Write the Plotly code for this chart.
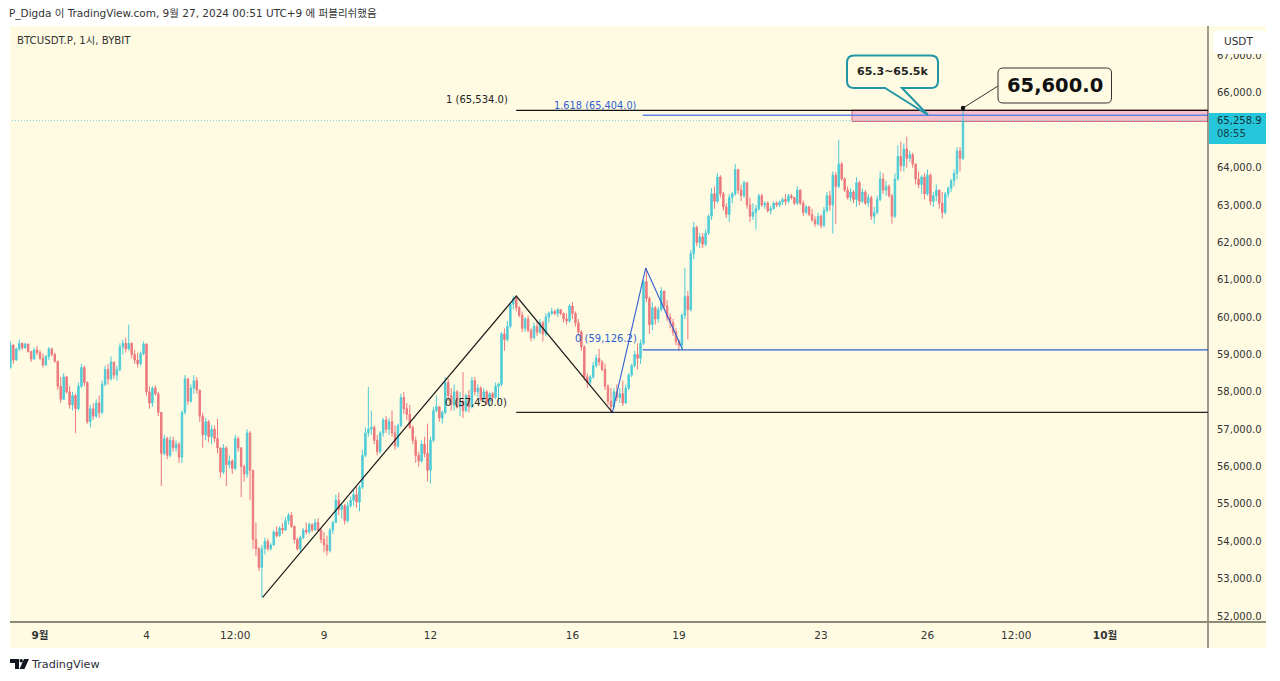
#!/usr/bin/env python3
"""BTCUSDT.P 1h chart snapshot (TradingView look) with fib levels and the 65.3~65.5k target zone."""
import pandas as pd
import plotly.graph_objects as go

FONT = "DejaVu Sans, Noto Sans CJK KR"
CREAM = "#fffbe3"
UP = "#2fc4d6"
DOWN = "#e9636d"
BLUE = "#2f5fd0"

# candles, one row per day (Aug 31 is a short row, Sep 27 a single bar)
opens = [
    58650, 59250, 58850, 59150, 59300, 59180, 59280, 59080, 58880, 59120,
    59050, 58900, 58720, 58950, 59150, 59000, 58820, 58150, 57800, 58400, 58000, 57650,
    57900, 57550, 58150, 58650, 58250, 57200, 57550, 57350, 57700, 57450, 58200, 58600,
    58350, 58800, 58450, 58600, 59200, 59300, 59150, 59300, 59000, 58850, 58750, 59020,
    59280, 58000, 57700, 58100, 57950, 57450, 56350, 56750, 56300, 56700, 56500, 56600,
    56250, 57450, 58350, 57750, 58100, 58300, 58050, 57350, 56850, 57200, 56800, 57000,
    56750, 56500, 55850, 56500, 56050, 56150, 55950, 56750, 56500, 56000, 55800, 56900,
    55900, 54050, 53800, 53300, 53800, 54000, 53800, 53900, 54250, 54150, 54350, 54300,
    54550, 54700, 54400, 54050, 53800, 54100, 54300, 54250, 54450, 54300, 54500, 54300,
    54050, 53900, 53750, 54300, 54500, 55100, 54850, 54950, 54550, 54950, 55100, 55250,
    55050, 55450, 56300, 56900, 57000, 57050, 56700, 56400, 56900, 57250, 57000, 57200,
    56900, 56550, 57100, 57850, 57550, 57400, 57050, 56700, 56300, 56150, 56600, 56350,
    55900, 56700, 57500, 57600, 57300, 57450, 58250, 57900, 57650, 58000, 57600, 57750,
    57500, 57900, 57600, 58300, 58000, 58100, 57800, 58000, 57750, 57950, 57850, 58150,
    58200, 59550, 59400, 59750, 60350, 60500, 60250, 60050, 59700, 59950, 59650, 59450,
    59750, 59600, 59850, 59550, 60000, 60100, 60150, 60100, 60200, 60100, 59950, 59900,
    60300, 60100, 59850, 59600, 59200, 58400, 58250, 58400, 58700, 58900, 58800, 58600,
    58150, 57750, 57600, 58000, 57850, 57950, 57700, 58100, 58450, 58700, 59000, 58900,
    59300, 60950, 60500, 59800, 60250, 59950, 60200, 60700, 60300, 60000, 59850, 59600,
    59350, 59250, 60050, 60550, 60200, 61700, 62400, 62000, 62150, 61950, 62250, 62700,
    63300, 63100, 63750, 63300, 62950, 62750, 63200, 63300, 63950, 63400, 63250, 63600,
    63000, 62700, 62800, 62900, 63250, 63000, 63050, 62850, 62900, 63050, 63000, 63080,
    63150, 63100, 63250, 63200, 63050, 63400, 63050, 62800, 62950, 62750, 62600, 62500,
    62700, 62450, 62850, 63250, 63000, 63800, 63500, 64100, 63700, 63400, 63200, 63350,
    63150, 63600, 63100, 63350, 63050, 63200, 62700, 62800, 63150, 63700, 63400, 63500,
    63250, 62700, 63700, 64300, 64050, 64500, 64250, 64350, 64100, 63700, 63550, 63750,
    63300, 63800, 63100, 63250, 63400, 63050, 62800, 63300, 63450, 63650, 63850, 64450,
    64250,
]
highs = [
    59340, 59280, 59180, 59400, 59320, 59320, 59300, 59100, 59180, 59230,
    59120, 59030, 58980, 59200, 59180, 59050, 58830, 58400, 58500, 58420, 58150, 58000,
    57950, 58250, 58750, 58700, 58280, 57650, 57700, 57800, 57900, 58300, 58700, 58750,
    58950, 58800, 58700, 59300, 59400, 59450, 59800, 59320, 59130, 59050, 59080, 59350,
    59300, 58150, 58150, 58180, 58000, 57450, 56850, 56800, 56800, 56800, 56700, 56650,
    57500, 58450, 58350, 58200, 58450, 58400, 58050, 57450, 57300, 57250, 57100, 57100,
    57280, 56500, 56600, 56550, 56300, 56200, 56850, 56800, 56520, 56050, 57000, 56950,
    55900, 54500, 53850, 53900, 54100, 54070, 53950, 54300, 54400, 54400, 54480, 54650,
    54760, 54780, 54420, 54100, 54150, 54350, 54500, 54500, 54480, 54600, 54620, 54350,
    54250, 54150, 54350, 54550, 55250, 55300, 55000, 55000, 55050, 55200, 55380, 55450,
    55500, 56450, 57050, 58130, 57500, 57100, 56850, 56950, 57300, 57350, 57300, 57500,
    57100, 57150, 57950, 58000, 57700, 57650, 57100, 56800, 56400, 56700, 56800, 57150,
    56800, 57600, 57900, 57600, 57500, 58400, 58350, 58100, 58200, 58050, 58000, 58530,
    57950, 58050, 58400, 58400, 58200, 58150, 58100, 58050, 58000, 58000, 58250, 58250,
    59600, 59700, 59900, 60400, 60560, 60560, 60300, 60150, 60000, 60050, 59700, 59850,
    59900, 59950, 59900, 60100, 60150, 60250, 60200, 60250, 60220, 60120, 60100, 60350,
    60400, 60150, 59950, 59650, 59250, 58500, 58450, 58800, 59000, 59150, 58850, 58750,
    58200, 58100, 58100, 58200, 58100, 58300, 58200, 58500, 58750, 59100, 59300, 59400,
    61000, 61300, 60550, 60400, 60300, 60280, 60800, 60700, 60450, 60100, 59950, 59700,
    59400, 60100, 61320, 60700, 61800, 62550, 62450, 62250, 62250, 62350, 62750, 63450,
    63500, 63850, 63800, 63350, 63050, 63300, 63350, 64100, 63950, 63550, 63650, 63600,
    63200, 63050, 63000, 63300, 63300, 63100, 63100, 62980, 63100, 63100, 63120, 63200,
    63300, 63300, 63300, 63220, 63500, 63420, 63120, 63000, 62980, 62900, 62700, 62800,
    62750, 62950, 63350, 63380, 63900, 63880, 64750, 64150, 63750, 63500, 63450, 63400,
    63750, 63650, 63450, 63400, 63300, 63250, 62950, 63250, 63900, 63850, 63650, 63550,
    63300, 63850, 64600, 64700, 64650, 64830, 64450, 64400, 64100, 63900, 63800, 63850,
    63950, 63850, 63350, 63550, 63400, 63350, 63350, 63500, 63700, 63950, 64550, 64550,
    65600,
]
lows = [
    58620, 58750, 58830, 59100, 59120, 59150, 59050, 58800, 58860, 58980,
    58850, 58650, 58700, 58850, 58950, 58780, 58050, 57700, 57780, 57950, 57550, 57500,
    56900, 57500, 58100, 58150, 57150, 57050, 57250, 57300, 57300, 57400, 58150, 58200,
    58300, 58350, 58300, 58550, 59000, 59050, 59100, 58900, 58750, 58650, 58700, 58980,
    57900, 57550, 57600, 57900, 57350, 55480, 56300, 56200, 56250, 56400, 56400, 56100,
    56100, 57400, 57650, 57700, 57950, 57950, 57200, 56500, 56700, 56650, 56600, 56650,
    56350, 55700, 55800, 55480, 55950, 55800, 55900, 56400, 55180, 55600, 55700, 55100,
    53800, 53600, 53200, 52500, 53650, 53750, 53750, 53880, 54100, 54120, 54200, 54280,
    54450, 54350, 53950, 53750, 53720, 54050, 54180, 54200, 54250, 54280, 54250, 53950,
    53700, 53620, 53700, 54200, 54500, 54700, 54600, 54450, 54500, 54900, 54950, 54900,
    54800, 55400, 56250, 56800, 56850, 56600, 56300, 56350, 56800, 56900, 56850, 56800,
    56450, 56500, 57050, 57400, 57250, 57000, 56600, 56100, 56000, 56100, 56250, 55600,
    55540, 56650, 57450, 57200, 57150, 57400, 57750, 57500, 57500, 57550, 57350, 57300,
    57450, 57450, 57550, 57900, 57850, 57750, 57750, 57650, 57600, 57750, 57800, 57700,
    58150, 59100, 59350, 59700, 60200, 60150, 60000, 59600, 59600, 59600, 59350, 59400,
    59500, 59550, 59350, 59500, 59850, 60050, 60050, 60000, 60050, 59850, 59800, 59850,
    59950, 59750, 59500, 59100, 58300, 58100, 58200, 58350, 58650, 58700, 58550, 58050,
    57650, 57450, 57560, 57750, 57700, 57620, 57680, 58050, 58400, 58650, 58600, 58750,
    59250, 60400, 59550, 59650, 59800, 59850, 60150, 60200, 59900, 59700, 59500, 59250,
    59100, 59150, 59950, 59400, 60150, 61550, 61900, 61850, 61850, 61900, 62200, 62600,
    62900, 63050, 63200, 62850, 62650, 62550, 63050, 63250, 63300, 63100, 63200, 62900,
    62550, 62600, 62350, 62850, 62950, 62900, 62800, 62750, 62880, 62950, 62950, 63000,
    63000, 63050, 63150, 63000, 63000, 63000, 62700, 62750, 62700, 62550, 62420, 62450,
    62380, 62400, 62800, 62850, 62240, 62500, 63450, 63650, 63350, 63150, 63100, 63050,
    62950, 63000, 63050, 63000, 62950, 62600, 62500, 62750, 63100, 63300, 63250, 63200,
    62500, 62650, 63650, 63900, 63900, 64000, 64150, 64000, 63550, 63450, 63300, 63150,
    63250, 63000, 62950, 63100, 62900, 62640, 62750, 63200, 63350, 63500, 63700, 63900,
    64200,
]
closes = [
    59250, 58850, 59150, 59300, 59180, 59280, 59080, 58880, 59120, 59050,
    58900, 58720, 58950, 59150, 59000, 58820, 58150, 57800, 58400, 58000, 57650, 57900,
    57550, 58150, 58650, 58250, 57200, 57550, 57350, 57700, 57450, 58200, 58600, 58350,
    58800, 58450, 58600, 59200, 59300, 59150, 59300, 59000, 58850, 58750, 59020, 59280,
    58000, 57700, 58100, 57950, 57450, 56350, 56750, 56300, 56700, 56500, 56600, 56250,
    57450, 58350, 57750, 58100, 58300, 58050, 57350, 56850, 57200, 56800, 57000, 56750,
    56500, 55850, 56500, 56050, 56150, 55950, 56750, 56500, 56000, 55800, 56900, 55900,
    54050, 53800, 53300, 53800, 54000, 53800, 53900, 54250, 54150, 54350, 54300, 54550,
    54700, 54400, 54050, 53800, 54100, 54300, 54250, 54450, 54300, 54500, 54300, 54050,
    53900, 53750, 54300, 54500, 55100, 54850, 54950, 54550, 54950, 55100, 55250, 55050,
    55450, 56300, 56900, 57000, 57050, 56700, 56400, 56900, 57250, 57000, 57200, 56900,
    56550, 57100, 57850, 57550, 57400, 57050, 56700, 56300, 56150, 56600, 56350, 55900,
    56700, 57500, 57600, 57300, 57450, 58250, 57900, 57650, 58000, 57600, 57750, 57500,
    57900, 57600, 58300, 58000, 58100, 57800, 58000, 57750, 57950, 57850, 58150, 58200,
    59550, 59400, 59750, 60350, 60500, 60250, 60050, 59700, 59950, 59650, 59450, 59750,
    59600, 59850, 59550, 60000, 60100, 60150, 60100, 60200, 60100, 59950, 59900, 60300,
    60100, 59850, 59600, 59200, 58400, 58250, 58400, 58700, 58900, 58800, 58600, 58150,
    57750, 57600, 58000, 57850, 57950, 57700, 58100, 58450, 58700, 59000, 58900, 59300,
    60950, 60500, 59800, 60250, 59950, 60200, 60700, 60300, 60000, 59850, 59600, 59350,
    59250, 60050, 60550, 60200, 61700, 62400, 62000, 62150, 61950, 62250, 62700, 63300,
    63100, 63750, 63300, 62950, 62750, 63200, 63300, 63950, 63400, 63250, 63600, 63000,
    62700, 62800, 62900, 63250, 63000, 63050, 62850, 62900, 63050, 63000, 63080, 63150,
    63100, 63250, 63200, 63050, 63400, 63050, 62800, 62950, 62750, 62600, 62500, 62700,
    62450, 62850, 63250, 63000, 63800, 63500, 64100, 63700, 63400, 63200, 63350, 63150,
    63600, 63100, 63350, 63050, 63200, 62700, 62800, 63150, 63700, 63400, 63500, 63250,
    62700, 63700, 64300, 64050, 64500, 64250, 64350, 64100, 63700, 63550, 63750, 63300,
    63800, 63100, 63250, 63400, 63050, 62800, 63300, 63450, 63650, 63850, 64450, 64250,
    65258.9,
]

# zigzags and fib levels
zig_black_t = ["2024-09-07 06:30", "2024-09-14 10:00", "2024-09-17 03:00"]
zig_black_p = [52500, 60565, 57450]
zig_blue_t = ["2024-09-17 03:00", "2024-09-18 01:30", "2024-09-19 02:30"]
zig_blue_p = [57450, 61315, 59126.2]
fib_black_start = "2024-09-14 10:00"
fib_blue_start = "2024-09-17 23:30"
zone_start = "2024-09-23 21:00"
x_end = "2024-10-03 21:40"
tick_dates = ["2024-09-01", "2024-09-04", "2024-09-06 12:00", "2024-09-09", "2024-09-12", "2024-09-16",
              "2024-09-19", "2024-09-23", "2024-09-26", "2024-09-28 12:00", "2024-10-01"]
tick_text = ["<b>9월</b>", "4", "12:00", "9", "12", "16", "19", "23", "26", "12:00", "<b>10월</b>"]
price_ticks = [52000, 53000, 54000, 55000, 56000, 57000, 58000, 59000, 60000,
               61000, 62000, 63000, 64000, 66000, 67000]


def px(x):
    return (x - 10) / 1198


def py(y):
    return (622 - y) / 596


def rect_path(x0, y0, x1, y1, r):
    return (f"M{px(x0 + r)},{py(y0)} L{px(x1 - r)},{py(y0)} Q{px(x1)},{py(y0)} {px(x1)},{py(y0 + r)} "
            f"L{px(x1)},{py(y1 - r)} Q{px(x1)},{py(y1)} {px(x1 - r)},{py(y1)} "
            f"L{px(x0 + r)},{py(y1)} Q{px(x0)},{py(y1)} {px(x0)},{py(y1 - r)} "
            f"L{px(x0)},{py(y0 + r)} Q{px(x0)},{py(y0)} {px(x0 + r)},{py(y0)} Z")


def callout_path(x0, y0, x1, y1, r, t0, t1, tx, ty):
    return (f"M{px(x0 + r)},{py(y0)} L{px(x1 - r)},{py(y0)} Q{px(x1)},{py(y0)} {px(x1)},{py(y0 + r)} "
            f"L{px(x1)},{py(y1 - r)} Q{px(x1)},{py(y1)} {px(x1 - r)},{py(y1)} "
            f"L{px(t1)},{py(y1)} L{px(tx)},{py(ty)} L{px(t0)},{py(y1)} "
            f"L{px(x0 + r)},{py(y1)} Q{px(x0)},{py(y1)} {px(x0)},{py(y1 - r)} "
            f"L{px(x0)},{py(y0 + r)} Q{px(x0)},{py(y0)} {px(x0 + r)},{py(y0)} Z")


def paper_shape(kind, x0, y0, x1, y1, **kw):
    return dict(type=kind, xref="paper", yref="paper", x0=px(x0), x1=px(x1), y0=py(y0), y1=py(y1), **kw)


def label(text, x, y, size=10, color="#333333", xanchor="left"):
    return dict(text=text, xref="paper", yref="paper", x=px(x), y=py(y), xanchor=xanchor, yanchor="middle",
                showarrow=False, font=dict(family=FONT, size=size, color=color))


times = pd.date_range(end="2024-09-27 00:00", periods=len(closes), freq="2h")

fig = go.Figure()
fig.add_trace(go.Candlestick(
    x=times, open=opens, high=highs, low=lows, close=closes, whiskerwidth=0, opacity=0.85,
    increasing=dict(line=dict(color=UP, width=1), fillcolor=UP),
    decreasing=dict(line=dict(color=DOWN, width=1), fillcolor=DOWN),
    showlegend=False))
fig.add_trace(go.Scatter(x=zig_black_t, y=zig_black_p, mode="lines",
                         line=dict(color="#1c1c1c", width=1.2), showlegend=False))
fig.add_trace(go.Scatter(x=zig_blue_t, y=zig_blue_p, mode="lines",
                         line=dict(color=BLUE, width=1.1), showlegend=False))

shapes = [
    # cream panel behind the whole chart incl. price and time scales
    paper_shape("rect", 10, 26, 1266, 648, fillcolor=CREAM, line_width=0, layer="below"),
    # target zone
    dict(type="rect", xref="x", yref="y", x0=zone_start, x1=x_end, y0=65240, y1=65540,
         fillcolor="#f6bfca", line=dict(color="#dd5a72", width=1), layer="between"),
    # fib levels
    dict(type="line", xref="x", yref="y", x0=fib_black_start, x1=x_end, y0=65534, y1=65534,
         line=dict(color="#111111", width=1.2)),
    dict(type="line", xref="x", yref="y", x0=fib_black_start, x1=x_end, y0=57450, y1=57450,
         line=dict(color="#222222", width=1.2)),
    dict(type="line", xref="x", yref="y", x0=fib_blue_start, x1=x_end, y0=65404, y1=65404,
         line=dict(color="#5f86e6", width=1.4)),
    dict(type="line", xref="x", yref="y", x0=fib_blue_start, x1=x_end, y0=59126.2, y1=59126.2,
         line=dict(color=BLUE, width=1.2)),
    # last price line
    dict(type="line", xref="x", yref="y", x0=times[0] - pd.Timedelta(hours=1), x1=x_end, y0=65258.9, y1=65258.9,
         line=dict(color="#6fcfdc", width=1, dash="1px,2px")),
    # scales
    paper_shape("line", 1208, 26, 1208, 648, line=dict(color="#3b3b3b", width=1)),
    paper_shape("line", 10, 622, 1266, 622, line=dict(color="#8b8a78", width=2)),
    # price tag and USDT button
    paper_shape("rect", 1209, 113, 1266, 144, fillcolor="#26c6da", line_width=0),
    dict(type="path", xref="paper", yref="paper", path=rect_path(1213, 31, 1266, 54, 4),
         fillcolor="#ffffff", line_width=0),
    # callouts
    dict(type="path", xref="paper", yref="paper",
         path=callout_path(847, 55.5, 938, 88, 7, 885, 902, 928, 115),
         fillcolor=CREAM, line=dict(color="#2197a6", width=2)),
    dict(type="path", xref="paper", yref="paper", path=rect_path(998, 68, 1111.5, 103, 5),
         fillcolor=CREAM, line=dict(color="#333333", width=1)),
    paper_shape("line", 963, 108, 998, 86, line=dict(color="#333333", width=1)),
    paper_shape("circle", 960.8, 105.8, 965.2, 110.2, fillcolor="#111111", line_width=0),
    # TradingView mark
    dict(type="path", xref="paper", yref="paper", fillcolor="#131722", line_width=0,
         path=f"M{px(10)},{py(659)} L{px(19)},{py(659)} L{px(19)},{py(669)} L{px(15)},{py(669)} "
              f"L{px(15)},{py(663)} L{px(10)},{py(663)} Z"),
    paper_shape("circle", 19.5, 659, 23, 662.5, fillcolor="#131722", line_width=0),
    dict(type="path", xref="paper", yref="paper", fillcolor="#131722", line_width=0,
         path=f"M{px(24)},{py(659)} L{px(29)},{py(659)} L{px(24.5)},{py(669)} L{px(19.5)},{py(669)} Z"),
]

annotations = [
    label("P_Digda 이 TradingView.com, 9월 27, 2024 00:51 UTC+9 에 퍼블리쉬했음", 7, 14, size=10.5),
    label("BTCUSDT.P, 1시, BYBIT", 15, 40, size=10.2),
    label("TradingView", 28.5, 664, size=11.2, color="#2a2e39"),
    label("1 (65,534.0)", 510, 100, size=10, color="#222222", xanchor="right"),
    label("0 (57,450.0)", 509, 402, size=10, color="#222222", xanchor="right"),
    label("1.618 (65,404.0)", 638, 105, size=9.8, color=BLUE, xanchor="right"),
    label("0 (59,126.2)", 639, 339, size=10, color=BLUE, xanchor="right"),
    label("<b>65.3~65.5k</b>", 892.5, 71, size=11, color="#222222", xanchor="center"),
    label("<b>65,600.0</b>", 1055, 85, size=19.5, color="#111111", xanchor="center"),
    label("65,258.9", 1215, 120, size=10, color="#12343b"),
    label("08:55", 1215, 134, size=10, color="#12434d"),
    label("USDT", 1239, 41, size=10.5, color="#333333", xanchor="center"),
]

fig.update_layout(
    width=1280, height=681, margin=dict(l=10, r=72, t=26, b=59),
    paper_bgcolor="#ffffff", plot_bgcolor=CREAM,
    font=dict(family=FONT, size=10, color="#333333"),
    shapes=shapes, annotations=annotations, showlegend=False,
    xaxis=dict(range=["2024-08-31 03:43", x_end], rangeslider=dict(visible=False), showgrid=False, zeroline=False,
               tickmode="array", tickvals=tick_dates, ticktext=tick_text, ticks="outside", ticklen=3,
               tickcolor="rgba(0,0,0,0)", tickfont=dict(family=FONT, size=10.5, color="#333333")),
    yaxis=dict(range=[51840, 67793], side="right", showgrid=False, zeroline=False,
               tickmode="array", tickvals=price_ticks, tickformat=",.1f", ticks="outside", ticklen=6,
               tickcolor="rgba(0,0,0,0)", tickfont=dict(family=FONT, size=10, color="#333333")),
)

fig.write_html("out.html", config=dict(displayModeBar=False), post_script="document.body.style.margin='0';")
